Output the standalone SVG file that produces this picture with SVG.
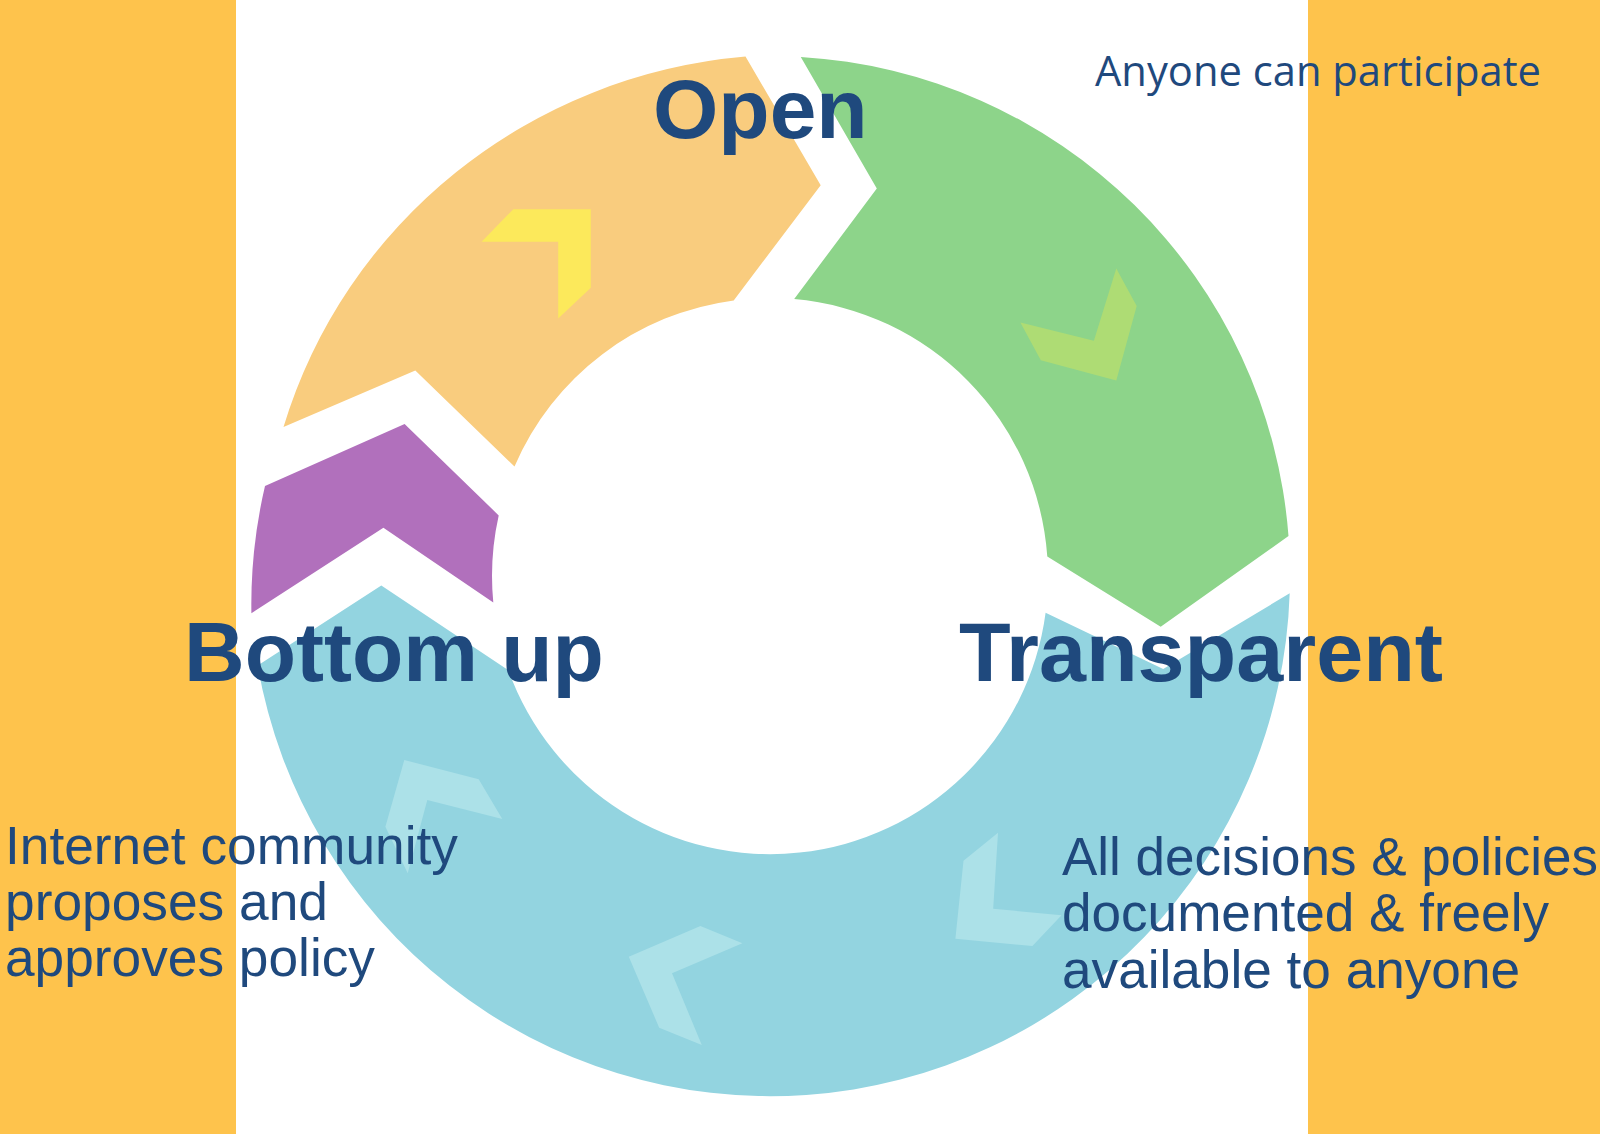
<svg xmlns="http://www.w3.org/2000/svg" width="1600" height="1134" viewBox="0 0 1600 1134">
<style>
.band{fill:#FEC34C}
.t{fill:#1F497D;font-family:"Liberation Sans",Arial,sans-serif}
.big{font-size:84px;font-weight:bold}
.body{font-size:53px}
.body2{font-size:54px}
.note{font-family:"Open Sans","Noto Sans",sans-serif;font-size:42px;fill:#1F497D}
.chev-b{fill:#ACE1E8}
</style>
<rect class="band" x="0" y="0" width="236" height="1134"/>
<rect class="band" x="1308" y="0" width="292" height="1134"/>
<rect x="236" y="0" width="1072" height="1134" fill="#FFFFFF"/>

<g id="open">
<path d="M283.5,427 A530,520 0 0 1 745.5,56.6 L820.7,185.3 L733.7,300.4 A278,278 0 0 0 514.5,466.5 L415.3,370.4 Z" fill="#F9CC7E"/>
<polygon points="481.6,241.8 513.3,209.2 590.8,209.2 590.8,287.8 558.2,318.4 558.2,241.8" fill="#FCE95B"/>
</g>

<g id="transparent-seg">
<path d="M800.8,56.9 A520,520 0 0 1 1288.5,536.1 L1160.7,626.7 L1047.3,556.6 A278,278 0 0 0 794.2,299.1 L876.8,188.4 Z" fill="#8DD48A"/>
<polygon points="1020.4,322.4 1093.9,340.8 1116.3,268.4 1136.7,306.1 1116.3,380.6 1040.8,360.2" fill="#AEDC74"/>
</g>

<g id="bottom-seg">
<path d="M1289.7,593.3 A520,520 0 0 1 257.7,665.4 L381.3,585.5 L508.4,670.2 A278,278 0 0 0 1045.6,612.8 L1163.2,668.9 Z" fill="#93D4E0"/>
<polygon class="chev-b" points="404.3,760 478.7,779.3 502.3,819 427.3,800 407.7,873.3 385.4,826.7"/>
<polygon class="chev-b" points="700.4,926 742.4,943.3 672,973.3 701.8,1045 659.2,1027.7 628.8,956.7"/>
<polygon class="chev-b" points="998,832.7 993.2,908.7 1061.5,915.3 1032.4,946 955.4,938.7 963.5,860.7"/>
</g>

<g id="bottomup-seg">
<path d="M251.4,613.2 L383.4,527.8 L493.3,602.6 A278,278 0 0 1 498.7,515.4 L404.6,423.9 L265,486 A520,520 0 0 0 251.4,613.2 Z" fill="#B170BC"/>
</g>

<g id="labels">
<text class="t big" x="653" y="138">Open</text>
<text class="t big" x="184" y="681">Bottom up</text>
<text class="t big" x="959" y="681" textLength="484" lengthAdjust="spacingAndGlyphs">Transparent</text>
<text class="note" x="1095" y="86" textLength="446" lengthAdjust="spacingAndGlyphs">Anyone can participate</text>
<text class="t body"><tspan x="5" y="864" textLength="453" lengthAdjust="spacingAndGlyphs">Internet community</tspan><tspan x="5" y="920" textLength="323" lengthAdjust="spacingAndGlyphs">proposes and</tspan><tspan x="5" y="976" textLength="370" lengthAdjust="spacingAndGlyphs">approves policy</tspan></text>
<text class="t body2"><tspan x="1062" y="875" textLength="536" lengthAdjust="spacingAndGlyphs">All decisions &amp; policies</tspan><tspan x="1062" y="931" textLength="487" lengthAdjust="spacingAndGlyphs">documented &amp; freely</tspan><tspan x="1062" y="988" textLength="458" lengthAdjust="spacingAndGlyphs">available to anyone</tspan></text>
</g>
</svg>
